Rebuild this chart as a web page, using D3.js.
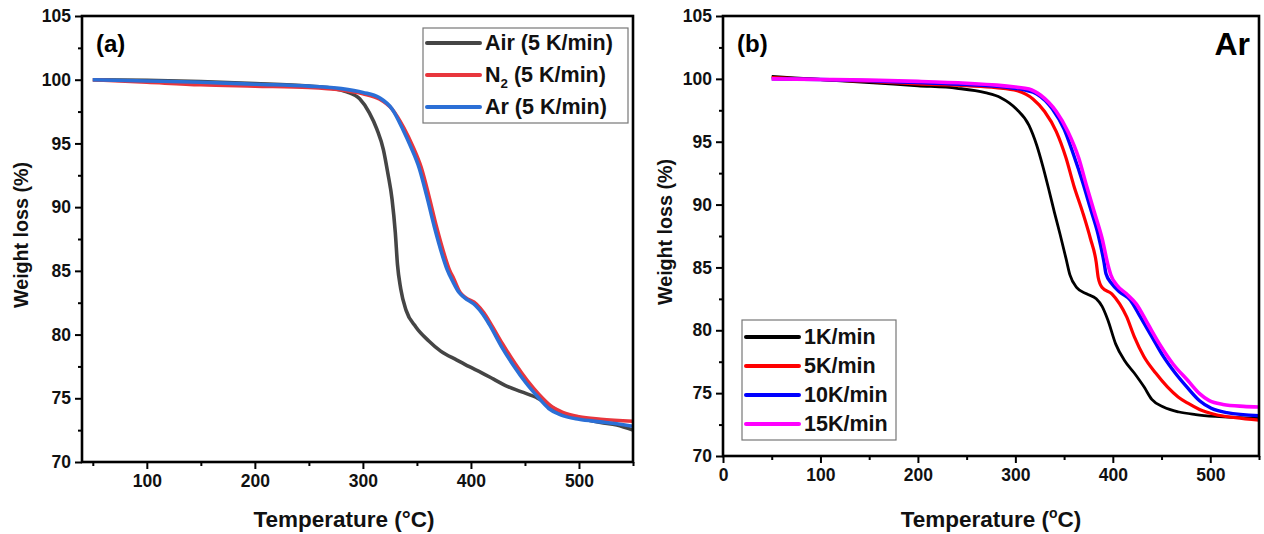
<!DOCTYPE html>
<html lang="en">
<head>
<meta charset="UTF-8">
<title>TGA weight loss</title>
<script src="https://d3js.org/d3.v7.min.js"></script>
<style>
    body { margin: 0; background: #fff; }
    svg { display: block; font-family: "Liberation Sans", Arial, sans-serif; font-weight: bold; }
    .tick text { font-family: "Liberation Sans", Arial, sans-serif; font-weight: bold; font-size: 17.5px; fill: #111; }
    .tick line { stroke: #000; stroke-width: 2; }
    .domain { display: none; }
</style>
</head>
<body>
<svg id="chart" width="1264" height="534"></svg>
<script>
    // Data - panel (a), 5 K/min in different atmospheres: [temperature °C, weight %]
    const airData = [[50,100.0],[100,99.95],[150,99.85],[200,99.7],[250,99.5],[270,99.35],[285,99.05],[297,98.5],[306,97.4],[313,96.1],[319,94.5],[323,92.7],[327,90.6],[330,88.0],[332,85.5],[335,83.6],[340,81.9],[349,80.6],[361,79.5],[372,78.7],[387,78.0],[398,77.5],[410,77.0],[421,76.5],[432,76.0],[447,75.5],[462,75.0],[475,74.3],[485,73.8],[500,73.45],[520,73.1],[535,72.9],[550,72.5]];
    const n2Data = [[50,100.0],[100,99.8],[150,99.6],[200,99.5],[250,99.4],[280,99.2],[300,98.9],[315,98.5],[327,97.7],[338,96.2],[346,94.8],[354,93.1],[361,90.9],[368,88.5],[376,86.1],[380,85.1],[384,84.4],[390,83.3],[395,82.9],[405,82.4],[412,81.7],[418,80.9],[429,79.3],[441,77.7],[452,76.4],[463,75.3],[474,74.4],[485,73.9],[500,73.55],[520,73.35],[550,73.2]];
    const arData = [[50,100.0],[100,99.9],[150,99.8],[200,99.65],[250,99.5],[280,99.3],[300,99.0],[315,98.6],[327,97.7],[337,96.1],[344,94.8],[352,93.1],[359,90.9],[366,88.5],[374,86.1],[378,85.1],[383,84.2],[389,83.3],[394,82.9],[404,82.3],[411,81.6],[417,80.8],[428,79.1],[440,77.5],[451,76.2],[462,75.1],[472,74.2],[483,73.7],[500,73.35],[520,73.15],[535,73.0],[550,72.8]];

    // Data - panel (b), Ar at different heating rates
    const rate1Data = [[50,100.2],[100,99.95],[150,99.7],[200,99.45],[240,99.25],[269,98.9],[285,98.5],[301,97.6],[314,96.3],[322,94.7],[328,93.1],[334,91.3],[340,89.4],[346,87.6],[352,85.7],[356,84.4],[363,83.4],[373,82.9],[383,82.5],[389,81.9],[395,80.8],[403,78.9],[412,77.6],[422,76.6],[432,75.5],[440,74.5],[452,73.9],[468,73.5],[485,73.3],[505,73.15],[550,73.0]];
    const rate5Data = [[50,100.1],[100,99.95],[150,99.8],[200,99.6],[250,99.45],[280,99.3],[302,99.05],[318,98.4],[330,97.4],[342,95.8],[352,93.7],[360,91.5],[369,89.4],[377,87.3],[383,85.4],[385,84.2],[389,83.4],[399,82.9],[407,82.1],[414,81.1],[422,79.5],[432,77.9],[444,76.6],[456,75.5],[467,74.7],[477,74.2],[489,73.7],[505,73.3],[526,73.05],[550,72.85]];
    const rate10Data = [[50,100.0],[100,99.95],[150,99.85],[200,99.7],[250,99.55],[290,99.35],[310,99.1],[322,98.8],[338,97.6],[350,96.0],[360,93.9],[369,91.8],[377,89.7],[385,87.6],[391,85.4],[393,84.5],[399,83.7],[407,83.05],[418,82.4],[428,81.1],[440,79.5],[452,77.9],[464,76.6],[477,75.4],[489,74.4],[501,73.8],[517,73.45],[550,73.2]];
    const rate15Data = [[50,100.0],[100,99.95],[150,99.9],[200,99.8],[250,99.65],[281,99.5],[300,99.35],[314,99.2],[326,98.7],[342,97.4],[354,95.8],[365,93.7],[373,91.5],[381,89.4],[389,87.3],[395,85.2],[398,84.4],[404,83.6],[414,82.9],[424,82.1],[436,80.5],[448,78.9],[462,77.3],[477,76.0],[489,74.96],[499,74.4],[513,74.1],[534,73.95],[550,73.9]];

    const xTicksA = [100, 200, 300, 400, 500];
    const xTicksB = [0, 100, 200, 300, 400, 500];
    const yTicks = [70, 75, 80, 85, 90, 95, 100, 105];

    const svg = d3.select('#chart');

    function drawPanel(opt) {
        const x = d3.scaleLinear().domain(opt.xDomain).range([opt.left, opt.right]);
        const y = d3.scaleLinear().domain([70, 105]).range([opt.bottom, opt.top]);
        const g = svg.append('g');

        // minor ticks
        g.append('g').attr('transform', `translate(0,${opt.bottom})`)
            .call(d3.axisBottom(x).tickValues(d3.range(50, 551, 100)).tickSize(4).tickFormat(''));
        g.append('g').attr('transform', `translate(${opt.left},0)`)
            .call(d3.axisLeft(y).tickValues(d3.range(72.5, 105, 5)).tickSize(4).tickFormat(''));

        // major ticks
        g.append('g').attr('transform', `translate(0,${opt.bottom})`)
            .call(d3.axisBottom(x).tickValues(opt.xTicks).tickSize(7).tickPadding(6).tickFormat(d3.format('d')));
        g.append('g').attr('transform', `translate(${opt.left},0)`)
            .call(d3.axisLeft(y).tickValues(yTicks).tickSize(7).tickPadding(4).tickFormat(d3.format('d')));

        const clipId = 'clip' + opt.id;
        svg.append('clipPath').attr('id', clipId).append('rect')
            .attr('x', opt.left).attr('y', opt.top)
            .attr('width', opt.right - opt.left).attr('height', opt.bottom - opt.top);

        const line = d3.line().x(d => x(d[0])).y(d => y(d[1])).curve(d3.curveMonotoneX);
        opt.series.forEach(s => {
            g.append('path')
                .datum(s.data)
                .attr('clip-path', `url(#${clipId})`)
                .attr('fill', 'none')
                .attr('stroke', s.color)
                .attr('stroke-width', s.width)
                .attr('stroke-linejoin', 'round')
                .attr('d', line);
        });

        // frame
        g.append('rect')
            .attr('x', opt.left).attr('y', opt.top)
            .attr('width', opt.right - opt.left).attr('height', opt.bottom - opt.top)
            .attr('fill', 'none').attr('stroke', '#000').attr('stroke-width', 2.6);

        // axis titles
        const xt = g.append('text')
            .attr('x', opt.xTitleX).attr('y', 527)
            .attr('text-anchor', 'middle').attr('font-size', 22.5).attr('fill', '#111')
            .text('Temperature (');
        if (opt.supO) {
            xt.append('tspan').attr('font-size', 14).attr('dy', -9).text('o');
            xt.append('tspan').attr('dy', 9).text('C)');
        } else {
            xt.append('tspan').text('°C)');
        }
        g.append('text')
            .attr('transform', `translate(${opt.yTitleX},${(opt.top + opt.bottom) / 2 - 4}) rotate(-90)`)
            .attr('text-anchor', 'middle').attr('font-size', 21).attr('fill', '#111')
            .attr('textLength', 146).attr('lengthAdjust', 'spacingAndGlyphs')
            .text('Weight loss (%)');

        // panel tag
        g.append('text').attr('x', opt.left + 14).attr('y', 52)
            .attr('font-size', 24).attr('fill', '#000').text(opt.tag);

        // legend
        const lg = opt.legend;
        g.append('rect').attr('x', lg.x).attr('y', lg.y).attr('width', lg.w).attr('height', lg.h)
            .attr('fill', '#fff').attr('stroke', '#777').attr('stroke-width', 1.2);
        opt.series.forEach((s, i) => {
            const cy = lg.y + lg.first + i * lg.step;
            g.append('line').attr('x1', lg.x + 4).attr('x2', lg.x + 4 + lg.lineLen)
                .attr('y1', cy).attr('y2', cy)
                .attr('stroke', s.color).attr('stroke-width', 4).attr('stroke-linecap', 'round');
            const t = g.append('text').attr('x', lg.x + lg.lineLen + 9).attr('y', cy + 7)
                .attr('font-size', lg.font).attr('fill', '#111');
            if (s.sub) {
                t.append('tspan').text(s.name);
                t.append('tspan').attr('font-size', lg.font * 0.62).attr('dy', 6).text(s.sub);
                t.append('tspan').attr('dy', -6).text(s.rest);
            } else {
                t.text(s.name);
            }
        });
        return g;
    }

    drawPanel({
        id: 'a', tag: '(a)', left: 82, right: 633, top: 16, bottom: 462,
        xDomain: [40, 550], xTicks: xTicksA, xTitleX: 344, yTitleX: 28, supO: false,
        legend: { x: 423, y: 28, w: 205, h: 95, first: 15, step: 32, lineLen: 53, font: 21.5 },
        series: [
            { name: 'Air (5 K/min)', data: airData, color: '#454545', width: 3.6 },
            { name: 'N', sub: '2', rest: ' (5 K/min)', data: n2Data, color: '#e8363d', width: 3.6 },
            { name: 'Ar (5 K/min)', data: arData, color: '#2b6fd6', width: 3.6 }
        ]
    });

    const gb = drawPanel({
        id: 'b', tag: '(b)', left: 723, right: 1259, top: 16, bottom: 456,
        xDomain: [0, 550], xTicks: xTicksB, xTitleX: 991, yTitleX: 672, supO: true,
        legend: { x: 742, y: 320, w: 154, h: 120, first: 17, step: 29, lineLen: 53, font: 21.5 },
        series: [
            { name: '1K/min', data: rate1Data, color: '#000000', width: 2.8 },
            { name: '5K/min', data: rate5Data, color: '#ff0000', width: 3.2 },
            { name: '10K/min', data: rate10Data, color: '#0000ff', width: 3.4 },
            { name: '15K/min', data: rate15Data, color: '#ff00ff', width: 3.6 }
        ]
    });

    gb.append('text').attr('x', 1250).attr('y', 55).attr('text-anchor', 'end')
        .attr('font-size', 32).attr('fill', '#000').text('Ar');
</script>
</body>
</html>
